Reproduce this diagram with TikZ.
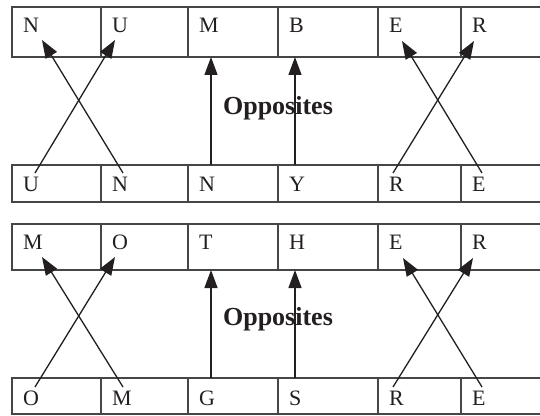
\documentclass[tikz,border=0pt]{standalone}
\usepackage{fontspec}
\setmainfont{Liberation Serif}
\usepackage{tikz}
\usepackage{xcolor}
\usetikzlibrary{positioning,arrows.meta}
\definecolor{rulegray}{RGB}{70,70,70}
\definecolor{inkblack}{RGB}{35,31,32}

\begin{document}
\begin{tikzpicture}[
    x=1pt, y=1pt,
    node distance=0pt,
    cell/.style={rectangle, draw=rulegray, line width=1.3pt, inner xsep=11pt, inner ysep=0pt, outer sep=0pt, align=left, text=inkblack, font=\fontsize{22}{26}\selectfont},
    tall/.style={cell, text height=26pt, text depth=24pt},
    mid/.style={cell, text height=26pt, text depth=20pt},
    short/.style={cell, text height=27pt, text depth=10pt},
    lowest/.style={cell, text height=27pt, text depth=9pt},
    tag/.style={text=inkblack, font=\fontsize{26}{30}\selectfont\bfseries, inner sep=0pt},
    arrow/.style={-{Triangle[length=18pt, width=13pt]}, line width=1.3pt, draw=inkblack}
]
\useasboundingbox (0,0) rectangle (540,415);

\node[tall, text width=67pt, anchor=north west] (a1) at (12,408) {N};
\node[tall, text width=65pt, right=of a1] (a2) {U};
\node[tall, text width=68pt, right=of a2] (a3) {M};
\node[tall, text width=78pt, right=of a3] (a4) {B};
\node[tall, text width=61pt, right=of a4] (a5) {E};
\node[tall, text width=62pt, right=of a5] (a6) {R};

\node[short, text width=67pt, anchor=north west] (b1) at (12,250) {U};
\node[short, text width=65pt, right=of b1] (b2) {N};
\node[short, text width=68pt, right=of b2] (b3) {N};
\node[short, text width=78pt, right=of b3] (b4) {Y};
\node[short, text width=61pt, right=of b4] (b5) {R};
\node[short, text width=62pt, right=of b5] (b6) {E};

\node[mid, text width=67pt, anchor=north west] (c1) at (12,191) {M};
\node[mid, text width=65pt, right=of c1] (c2) {O};
\node[mid, text width=68pt, right=of c2] (c3) {T};
\node[mid, text width=78pt, right=of c3] (c4) {H};
\node[mid, text width=61pt, right=of c4] (c5) {E};
\node[mid, text width=62pt, right=of c5] (c6) {R};

\node[lowest, text width=67pt, anchor=north west] (d1) at (12,37) {O};
\node[lowest, text width=65pt, right=of d1] (d2) {M};
\node[lowest, text width=68pt, right=of d2] (d3) {G};
\node[lowest, text width=78pt, right=of d3] (d4) {S};
\node[lowest, text width=61pt, right=of d4] (d5) {R};
\node[lowest, text width=62pt, right=of d5] (d6) {E};

\node[tag, anchor=base] (opp1) at (278,300) {Opposites};
\node[tag, anchor=base] (opp2) at (278,90) {Opposites};

\draw[arrow] ([shift={(23pt,-8pt)}]b1.north west) -- ([shift={(14pt,-33pt)}]a2.north west);
\draw[arrow] ([shift={(22pt,-8pt)}]b2.north west) -- ([shift={(30pt,-33pt)}]a1.north west);
\draw[arrow] ([xshift=23pt]b3.north west) -- ([xshift=23pt]a3.south west);
\draw[arrow] ([xshift=17pt]b4.north west) -- ([xshift=17pt]a4.south west);
\draw[arrow] ([shift={(15pt,-8pt)}]b5.north west) -- ([shift={(13pt,-34pt)}]a6.north west);
\draw[arrow] ([shift={(21pt,-8pt)}]b6.north west) -- ([shift={(24pt,-34pt)}]a5.north west);

\draw[arrow] ([shift={(23pt,-9pt)}]d1.north west) -- ([shift={(14pt,-33pt)}]c2.north west);
\draw[arrow] ([shift={(22pt,-9pt)}]d2.north west) -- ([shift={(30pt,-33pt)}]c1.north west);
\draw[arrow] ([xshift=23pt]d3.north west) -- ([xshift=23pt]c3.south west);
\draw[arrow] ([xshift=17pt]d4.north west) -- ([xshift=17pt]c4.south west);
\draw[arrow] ([shift={(15pt,-9pt)}]d5.north west) -- ([shift={(12pt,-34pt)}]c6.north west);
\draw[arrow] ([shift={(21pt,-9pt)}]d6.north west) -- ([shift={(25pt,-34pt)}]c5.north west);

\end{tikzpicture}
\end{document}
